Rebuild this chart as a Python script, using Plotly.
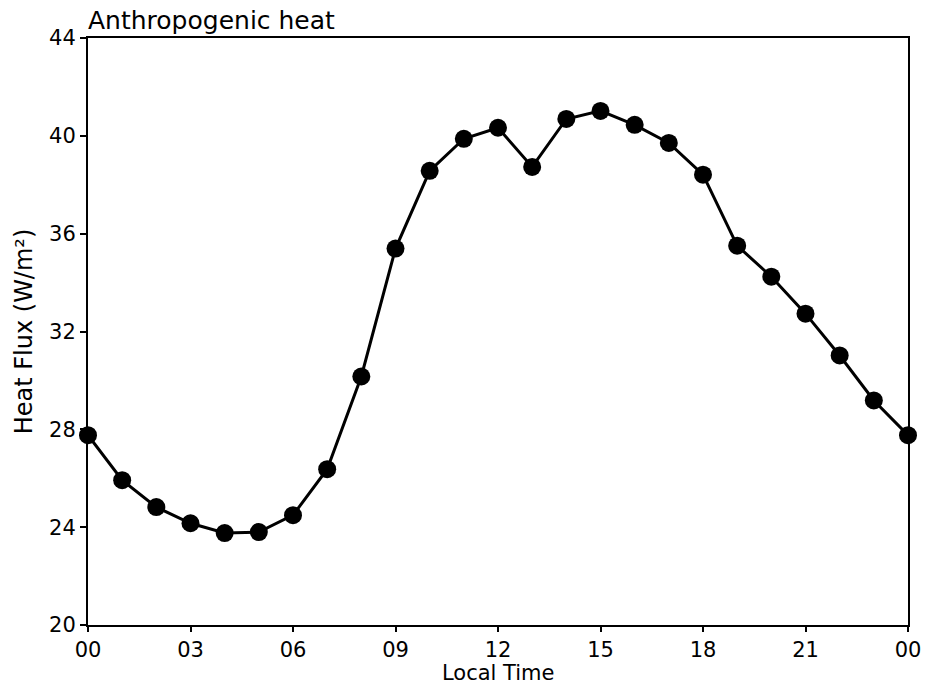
import plotly.graph_objects as go

hours = list(range(25))
heat_flux = [27.76, 25.92, 24.82, 24.16, 23.76, 23.8, 24.49, 26.37, 30.16, 35.39,
             38.57, 39.88, 40.33, 38.73, 40.69, 41.02, 40.45, 39.71, 38.41, 35.51,
             34.24, 32.73, 31.02, 29.18, 27.76]
x_tickvals = [0, 3, 6, 9, 12, 15, 18, 21, 24]
x_ticktext = ["00", "03", "06", "09", "12", "15", "18", "21", "00"]
y_tickvals = [20, 24, 28, 32, 36, 40, 44]

font = "DejaVu Sans"

fig = go.Figure()
fig.add_trace(go.Scatter(
    x=hours, y=heat_flux, mode="lines+markers",
    line=dict(color="black", width=3),
    marker=dict(color="black", size=18),
    cliponaxis=False, showlegend=False,
))

fig.update_layout(
    width=928, height=684,
    margin=dict(l=88, r=20, t=38, b=59, autoexpand=False),
    paper_bgcolor="white", plot_bgcolor="white",
    font=dict(family=font, color="black", size=21),
    title=dict(text="Anthropogenic heat", x=88/928, xanchor="left",
               y=1 - 20/684, yanchor="middle",
               font=dict(family=font, size=25, color="black")),
    xaxis=dict(range=[0, 24], tickvals=x_tickvals, ticktext=x_ticktext,
               ticks="outside", ticklen=5, tickwidth=2, tickcolor="black",
               showline=True, linecolor="black", linewidth=2, mirror=True,
               showgrid=False, zeroline=False, automargin=False,
               tickfont=dict(size=21)),
    yaxis=dict(range=[20, 44], tickvals=y_tickvals,
               ticks="outside", ticklen=6, tickwidth=2, tickcolor="black",
               showline=True, linecolor="black", linewidth=2, mirror=True,
               showgrid=False, zeroline=False, automargin=False,
               tickfont=dict(size=21),
               title=dict(text="Heat Flux (W/m²)", standoff=10, font=dict(size=24))),
    annotations=[dict(text="Local Time", xref="paper", yref="paper",
                      x=0.5, y=-(673 - 625) / 587, xanchor="center", yanchor="middle",
                      showarrow=False, font=dict(family=font, size=21, color="black"))],
)

fig.write_html("out.html")
